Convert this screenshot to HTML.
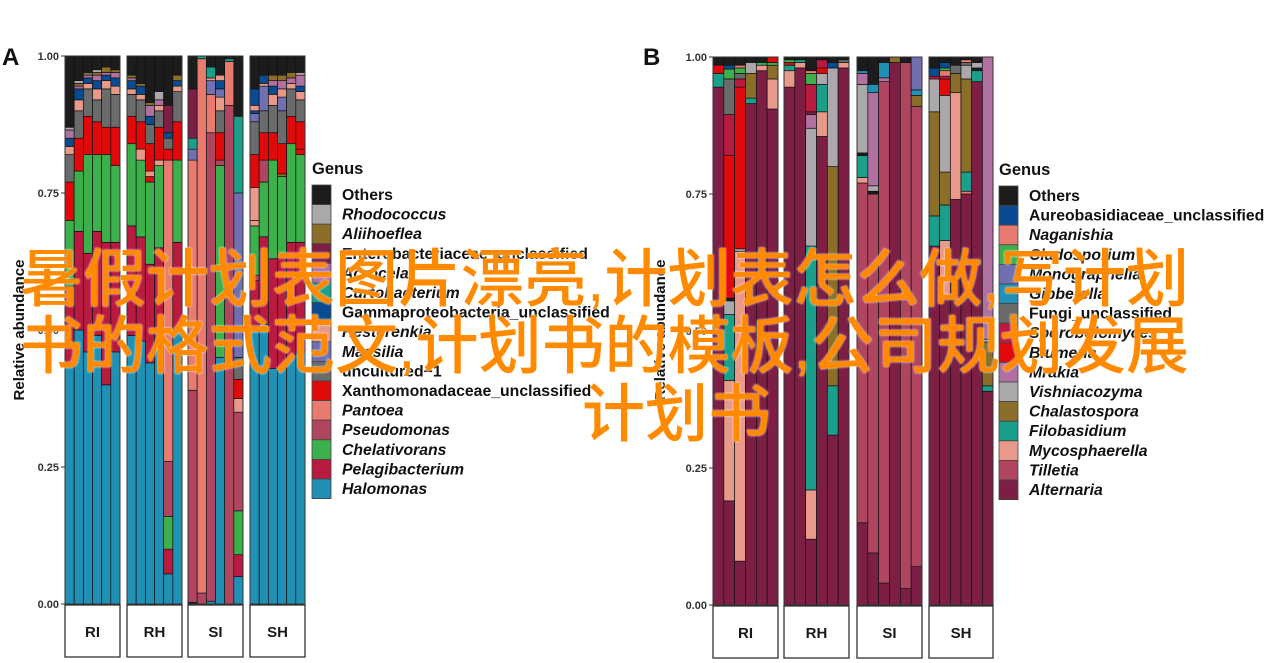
<!DOCTYPE html>
<html><head><meta charset="utf-8">
<style>
html,body{margin:0;padding:0;background:#fff;}
#wrap{position:relative;width:1270px;height:663px;overflow:hidden;}
svg{position:absolute;left:0;top:0;}
.ov{position:absolute;font-family:"Liberation Sans","Noto Sans CJK SC",sans-serif;font-size:63px;font-weight:500;color:#ff8a00;white-space:nowrap;line-height:63px;text-shadow:0 0 2px #fff;}
</style></head>
<body><div id="wrap">
<svg id="s" width="1270" height="663" xmlns="http://www.w3.org/2000/svg" font-family="Liberation Sans, sans-serif"></svg>
<div class="ov" style="left:20px;top:249px;">暑假计划表图片漂亮,计划表怎么做,写计划</div>
<div class="ov" style="left:20px;top:316px;">书的格式范文,计划书的模板,公司规划发展</div>
<div class="ov" style="left:582px;top:384px;">计划书</div>
</div>
<script>
const C={K:'#1c1c1c',Rh:'#aaa8aa',Al:'#8a6e2a',En:'#7d1e45',Ac:'#b070a0',Cu:'#1aa08a',Ga:'#0a4a90',He:'#e8998a',Ma:'#7070b0',Un:'#6a6c6c',Xa:'#e00a0a',Pa:'#e87a70',Ps:'#b0455f',Ch:'#3cb04a',Pe:'#b81a40',Ha:'#2090b5'};
const A=[
[[['Ha',.44],['Pe',.58],['Ch',.70],['Xa',.77],['Un',.82],['He',.835],['Ga',.85],['Ac',.865],['Rh',.87],['K',1]],
 [['Ha',.50],['Pe',.68],['Ch',.79],['Xa',.85],['Un',.90],['He',.92],['Ga',.94],['Ac',.945],['Al',.95],['Rh',.955],['K',1]],
 [['Ha',.46],['Pe',.64],['Ch',.82],['Xa',.89],['Un',.94],['He',.95],['Ga',.96],['Ac',.965],['Al',.97],['K',1]],
 [['Ha',.49],['Pe',.68],['Ch',.82],['Xa',.88],['Un',.92],['He',.94],['Ga',.955],['Ac',.965],['Al',.97],['Rh',.975],['K',1]],
 [['Ha',.40],['Pe',.66],['Ch',.82],['Xa',.87],['Un',.94],['He',.955],['Ga',.965],['Ac',.97],['Al',.98],['K',1]],
 [['Ha',.46],['Pe',.66],['Ch',.80],['Xa',.87],['Un',.93],['He',.945],['Ga',.96],['Ac',.97],['Al',.975],['K',1]]],
[[['Ha',.49],['Pe',.69],['Ch',.84],['Xa',.89],['Un',.93],['He',.94],['Ga',.955],['Ac',.96],['Al',.965],['K',1]],
 [['Ha',.48],['Pe',.67],['Ch',.81],['He',.83],['Xa',.88],['Un',.92],['He',.93],['Ga',.945],['Al',.95],['K',1]],
 [['Ha',.44],['Pe',.62],['Ch',.77],['Xa',.78],['He',.79],['Xa',.84],['Un',.875],['Ga',.89],['Ac',.91],['Al',.915],['K',1]],
 [['Ha',.47],['Pe',.65],['Ch',.80],['He',.81],['Xa',.87],['Un',.90],['He',.91],['Ac',.92],['Rh',.935],['K',1]],
 [['Ha',.055],['Pe',.10],['Ch',.16],['Ps',.26],['Pa',.81],['Xa',.83],['Un',.85],['Ga',.86],['En',.91],['K',1]],
 [['Ha',.50],['Pe',.66],['Ch',.81],['Xa',.88],['Un',.935],['He',.945],['Ga',.955],['Al',.965],['K',1]]],
[[['K',.003],['Ps',.39],['Pa',.81],['Ma',.83],['Cu',.85],['En',.94],['K',1]],
 [['Ps',.02],['Pa',.995],['Cu',1]],
 [['Ha',.005],['Ps',.86],['Pa',.93],['Ma',.955],['He',.96],['Cu',.98],['K',1]],
 [['Ha',.45],['Ch',.80],['Ps',.81],['Xa',.86],['Un',.90],['He',.925],['Ma',.94],['Ga',.955],['He',.965],['K',1]],
 [['Ps',.91],['Pa',.99],['Cu',.995],['K',1]],
 [['Ha',.05],['Pe',.09],['Ch',.17],['Ps',.35],['He',.375],['Xa',.41],['Un',.45],['Ma',.75],['Cu',.89],['K',1]]],
[[['Ha',.50],['Pe',.59],['Ps',.60],['Ch',.69],['He',.70],['He',.76],['Xa',.82],['Un',.88],['Ma',.895],['Ga',.90],['He',.91],['Ga',.94],['K',1]],
 [['Ha',.51],['Pe',.67],['Ch',.77],['Ps',.81],['Xa',.86],['Un',.90],['Ma',.945],['He',.95],['Ga',.965],['K',1]],
 [['Ha',.43],['Pe',.63],['Ch',.81],['Xa',.86],['Un',.91],['He',.93],['Ga',.945],['Ac',.955],['Al',.965],['K',1]],
 [['Ha',.43],['Pe',.64],['Ch',.78],['Al',.785],['Xa',.84],['Un',.90],['Ma',.925],['He',.94],['Ac',.955],['Al',.965],['K',1]],
 [['Ha',.45],['Pe',.66],['Ch',.84],['Xa',.89],['Un',.94],['He',.95],['Ac',.96],['Al',.97],['K',1]],
 [['Ha',.46],['Pe',.66],['Ch',.82],['Xa',.83],['Xa',.88],['Un',.92],['He',.935],['Ga',.945],['Ac',.965],['Rh',.97],['K',1]]]
];
const D={K:'#1c1c1c',Au:'#0a4a90',Na:'#e87a70',Cl:'#3cb04a',Mo:'#7070b0',Gi:'#2090b5',Fu:'#6a6c6c',Sp:'#b81a40',Bl:'#e00a0a',Mr:'#b070a0',Vi:'#aaa8aa',Ch:'#8a6e2a',Fi:'#1aa08a',My:'#e8998a',Ti:'#b0455f',Al:'#7d1e45'};
const B=[
[[['Al',.945],['Fi',.97],['Bl',.985],['K',1]],
 [['Al',.19],['My',.41],['Fi',.53],['Vi',.555],['K',.56],['Bl',.82],['Sp',.895],['Fu',.96],['Cl',.978],['Au',.985],['K',1]],
 [['Al',.08],['My',.645],['Vi',.65],['Bl',.945],['Sp',.96],['Fu',.97],['Cl',.98],['Na',.985],['K',1]],
 [['Al',.915],['Fi',.925],['Ch',.97],['Vi',.99],['K',1]],
 [['Al',.975],['My',.985],['Cl',.99],['K',1]],
 [['Al',.905],['My',.96],['Ch',.985],['Cl',.99],['Bl',1]]],
[[['Al',.945],['My',.975],['Fi',.985],['Bl',.99],['Cl',.995],['K',1]],
 [['Al',.98],['My',.99],['Fi',.995],['K',1]],
 [['Al',.12],['My',.21],['Fi',.655],['Vi',.87],['Mr',.895],['Al',.90],['Sp',.95],['Cl',.97],['Na',.975],['K',1]],
 [['Al',.855],['My',.90],['Fi',.95],['Vi',.97],['Bl',.98],['Sp',.995],['K',1]],
 [['Al',.31],['Fi',.40],['Ch',.80],['Vi',.98],['Au',.99],['K',1]],
 [['Al',.98],['My',.99],['Fu',.995],['K',1]]],
[[['Al',.15],['Ti',.77],['My',.78],['Fi',.82],['K',.825],['Vi',.95],['Mr',.97],['Gi',.975],['K',1]],
 [['Al',.095],['Ti',.75],['K',.755],['Vi',.765],['Mr',.935],['Gi',.95],['K',1]],
 [['Al',.04],['Ti',.955],['Mr',.962],['Gi',.99],['K',1]],
 [['Al',.99],['Ch',1]],
 [['Al',.03],['Ti',.99],['K',1]],
 [['Al',.07],['Ti',.91],['Ch',.93],['Gi',.94],['Mo',1]]],
[[['Al',.655],['Fi',.71],['Ch',.90],['Vi',.96],['Sp',.965],['Au',.98],['K',1]],
 [['Al',.565],['My',.665],['Fi',.73],['Ch',.79],['Vi',.93],['Bl',.96],['Sp',.965],['Na',.975],['Cl',.98],['Au',.99],['K',1]],
 [['Al',.74],['My',.935],['Ch',.97],['Fu',.985],['K',1]],
 [['Al',.75],['Na',.755],['Fi',.79],['Ch',.96],['Vi',.985],['Fu',.99],['Na',.995],['K',1]],
 [['Al',.955],['Fi',.975],['K',.98],['Vi',.99],['K',1]],
 [['Al',.39],['Fi',.40],['Ch',.48],['Vi',.485],['Mr',1]]]
];
const s=document.getElementById('s');let h='';
function panel(data,col,facets,yTop,yBot,axX,lab,labX){
  facets.forEach((f,fi)=>{
    const [x0,x1]=f,w=(x1-x0)/6;
    data[fi].forEach((bar,bi)=>{
      let prev=0;const bx=x0+bi*w;
      bar.forEach(([k,t])=>{
        const y1=yBot-(yBot-yTop)*t,y0=yBot-(yBot-yTop)*prev;
        h+=`<rect x="${bx.toFixed(2)}" y="${y1.toFixed(2)}" width="${w.toFixed(2)}" height="${(y0-y1).toFixed(2)}" fill="${col[k]}" stroke="#111" stroke-width="0.7"/>`;
        prev=t;
      });
    });
    h+=`<rect x="${x0}" y="${yTop}" width="${x1-x0}" height="${yBot-yTop}" fill="none" stroke="#333" stroke-width="1"/>`;
    h+=`<rect x="${x0}" y="${yBot+1}" width="${x1-x0}" height="52" fill="#fff" stroke="#333" stroke-width="1.3"/>`;
    h+=`<text x="${(x0+x1)/2}" y="${yBot+33}" font-size="15" font-weight="bold" text-anchor="middle" fill="#1a1a1a">${['RI','RH','SI','SH'][fi]}</text>`;
  });
  ['1.00','0.75','0.50','0.25','0.00'].forEach((t,i)=>{
    const y=yTop+(yBot-yTop)*i/4;
    h+=`<text x="${axX-5}" y="${y+4}" font-size="11" font-weight="bold" text-anchor="end" fill="#333">${t}</text>`;
    h+=`<line x1="${axX-3}" x2="${axX+1}" y1="${y}" y2="${y}" stroke="#333"/>`;
  });
  h+=`<text x="${labX}" y="65" font-size="24" font-weight="bold" fill="#111">${lab}</text>`;
  h+=`<text transform="translate(${labX+22},330) rotate(-90)" font-size="15" font-weight="bold" text-anchor="middle" fill="#111">Relative abundance</text>`;
}
panel(A,C,[[65,120],[127,182],[188,243],[250,305]],56,604,64,'A',2);
panel(B,D,[[713,778],[784,849],[857,922],[929,993]],57,605,712,'B',643);
function legend(x,y,items,col,fs){
  h+=`<text x="${x}" y="${y-11}" font-size="16.5" font-weight="bold" fill="#111">Genus</text>`;
  items.forEach(([k,n,it],i)=>{
    const yy=y+i*19.6;
    h+=`<rect x="${x}" y="${yy}" width="19" height="19.6" fill="${col[k]}" stroke="#444" stroke-width="0.8"/>`;
    h+=`<text x="${x+30}" y="${yy+15}" font-size="${fs}" font-weight="bold" ${it?'font-style="italic"':''} fill="#111">${n}</text>`;
  });
}
legend(312,185,[['K','Others',0],['Rh','Rhodococcus',1],['Al','Aliihoeflea',1],['En','Enterobacteriaceae_unclassified',0],['Ac','Acrocela',1],['Cu','Curtobacterium',1],['Ga','Gammaproteobacteria_unclassified',0],['He','Hesterenkia',1],['Ma','Massilia',1],['Un','uncultured−1',0],['Xa','Xanthomonadaceae_unclassified',0],['Pa','Pantoea',1],['Ps','Pseudomonas',1],['Ch','Chelativorans',1],['Pe','Pelagibacterium',1],['Ha','Halomonas',1]],C,15.8);
legend(999,186,[['K','Others',0],['Au','Aureobasidiaceae_unclassified',0],['Na','Naganishia',1],['Cl','Cladosporium',1],['Mo','Monographella',1],['Gi','Gibberella',1],['Fu','Fungi_unclassified',0],['Sp','Sporobolomyces',1],['Bl','Blumeria',1],['Mr','Mrakia',1],['Vi','Vishniacozyma',1],['Ch','Chalastospora',1],['Fi','Filobasidium',1],['My','Mycosphaerella',1],['Ti','Tilletia',1],['Al','Alternaria',1]],D,15.8);
s.innerHTML=h;
</script>
</body></html>
